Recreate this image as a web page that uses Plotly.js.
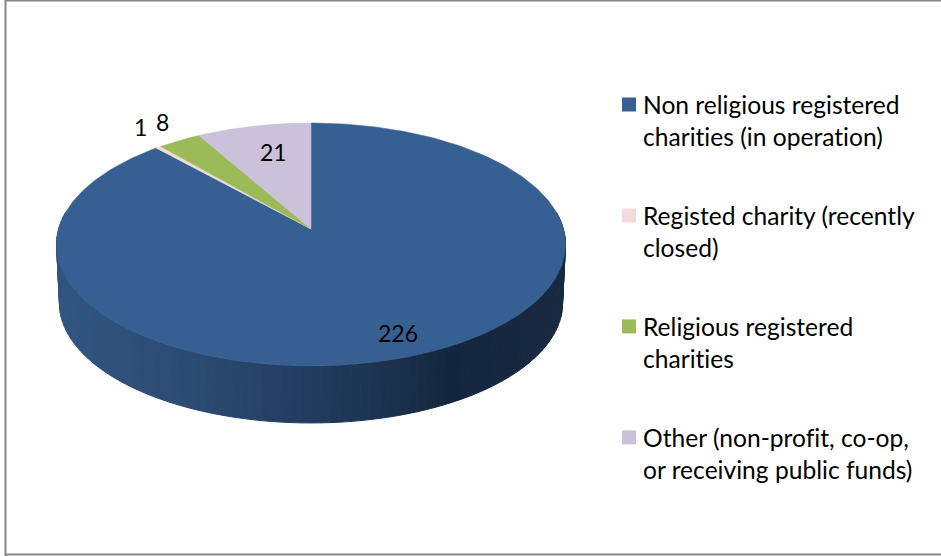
<!DOCTYPE html>
<html>
<head>
<meta charset="utf-8">
<script src="https://cdn.plot.ly/plotly-3.0.1.min.js"></script>
<style>html,body{margin:0;padding:0;background:#fff}#chart{width:941px;height:556px}
svg text{font-variant-ligatures:none !important;font-feature-settings:"liga" 0,"clig" 0 !important}</style>
</head>
<body>
<div id="chart"></div>
<script>
const categories = [
  "Non religious registered<br>charities (in operation)",
  "Registed charity (recently<br>closed)",
  "Religious registered<br>charities",
  "Other (non-profit, co-op,<br>or receiving public funds)"
];
const values = [226, 1, 8, 21];
const colors = ["#366092", "#F2DCDB", "#9BBB59", "#CCC1DA"];
const sideStops = [[56,"#31557f"],[200,"#2b4a72"],[300,"#233d5f"],[400,"#1a2f4b"],[450,"#14263e"],[566,"#18293f"]];

const FONT = "Lato, Carlito, sans-serif";
const CX = 311, CY = 229, A = 252.4, B = 119.5, K = 0.1276;
const CY2 = 287.7, A2 = 249.5, B2 = 118;

function project(deg, cx, cy, a, b) {
  const t = deg * Math.PI / 180, u = Math.sin(t), v = Math.cos(t), w = 1 + K * v;
  return [cx + a * u / w, cy - b * v / w];
}
const topPt = d => project(d, CX, CY, A, B);
const botPt = d => project(d, CX, CY2, A2, B2);

function hexToRgb(h) { return [1,3,5].map(i => parseInt(h.substr(i,2),16)); }
function sideColor(x) {
  for (let i = 0; i < sideStops.length - 1; i++) {
    const [x0,c0] = sideStops[i], [x1,c1] = sideStops[i+1];
    if (x <= x1) {
      const f = Math.max(0,(x-x0)/(x1-x0)), a = hexToRgb(c0), b = hexToRgb(c1);
      return "rgb(" + a.map((p,j)=>Math.round(p+(b[j]-p)*f)).join(",") + ")";
    }
  }
  return sideStops[sideStops.length-1][1];
}

const traces = [];
// side wall of the visible front half
const sMin = 90 - 8, sMax = 270 + 8, step = 2;
for (let d = sMin; d < sMax; d += step) {
  const p = topPt(d), q = topPt(d+step), r = botPt(d+step), s = botPt(d);
  const col = sideColor((p[0]+q[0])/2);
  traces.push({type:"scatter",mode:"lines",x:[p[0],q[0],r[0],s[0],p[0]],y:[p[1],q[1],r[1],s[1],p[1]],
    fill:"toself",fillcolor:col,line:{color:col,width:1},showlegend:false,hoverinfo:"skip"});
}
// top face
const total = values.reduce((a,b)=>a+b,0);
let cum = 0;
values.forEach((val,i) => {
  const a0 = cum/total*360, a1 = (cum+val)/total*360; cum += val;
  const xs = [CX], ys = [CY];
  const n = Math.max(2, Math.ceil(a1-a0));
  for (let j = 0; j <= n; j++) { const p = topPt(a0+(a1-a0)*j/n); xs.push(p[0]); ys.push(p[1]); }
  xs.push(CX); ys.push(CY);
  traces.push({type:"scatter",mode:"lines",x:xs,y:ys,fill:"toself",fillcolor:colors[i],
    line:{color:colors[i],width:0.5},showlegend:false,hoverinfo:"skip"});
});
// legend entries
categories.forEach((name,i) => {
  traces.push({type:"scatter",mode:"markers",x:[null],y:[null],name:name,legendgroup:"g"+i,
    marker:{symbol:"square",size:14,color:colors[i]},hoverinfo:"skip"});
});

const labelAt = [[398,333],[140,127],[162,122],[273,152]];
const annotations = values.map((v,i)=>({x:labelAt[i][0],y:labelAt[i][1],xref:"x",yref:"y",text:String(v),
  showarrow:false,font:{family:FONT,size:23,color:"#000"},xanchor:"center",yanchor:"middle"}));

const layout = {
  width:941,height:556,margin:{l:0,r:0,t:0,b:0,pad:0},
  paper_bgcolor:"#fff",plot_bgcolor:"#fff",hovermode:false,
  xaxis:{range:[0,941],visible:false,fixedrange:true},
  yaxis:{range:[556,0],visible:false,fixedrange:true},
  showlegend:true,
  legend:{x:603/941,xanchor:"left",y:1-82/556,yanchor:"top",traceorder:"grouped",tracegroupgap:44,
    font:{family:FONT,size:24.6,color:"#000"},bgcolor:"rgba(0,0,0,0)",borderwidth:0},
  annotations:annotations,
  shapes:[
    {type:"line",xref:"paper",yref:"paper",x0:5.5/941,x1:5.5/941,y0:0,y1:1,line:{color:"#868686",width:2}},
    {type:"line",xref:"paper",yref:"paper",x0:5/941,x1:1,y0:1-0.5/556,y1:1-0.5/556,line:{color:"#868686",width:2}},
    {type:"line",xref:"paper",yref:"paper",x0:5/941,x1:1,y0:1.5/556,y1:1.5/556,line:{color:"#868686",width:2}}
  ]
};
Plotly.newPlot("chart",traces,layout,{displayModeBar:false,staticPlot:true}).then(gd => {
  // swatch sits beside the first text line, close to the text
  gd.querySelectorAll(".legend .legendpoints").forEach(g => g.setAttribute("transform","translate(6,-16)"));
});
</script>
</body>
</html>
